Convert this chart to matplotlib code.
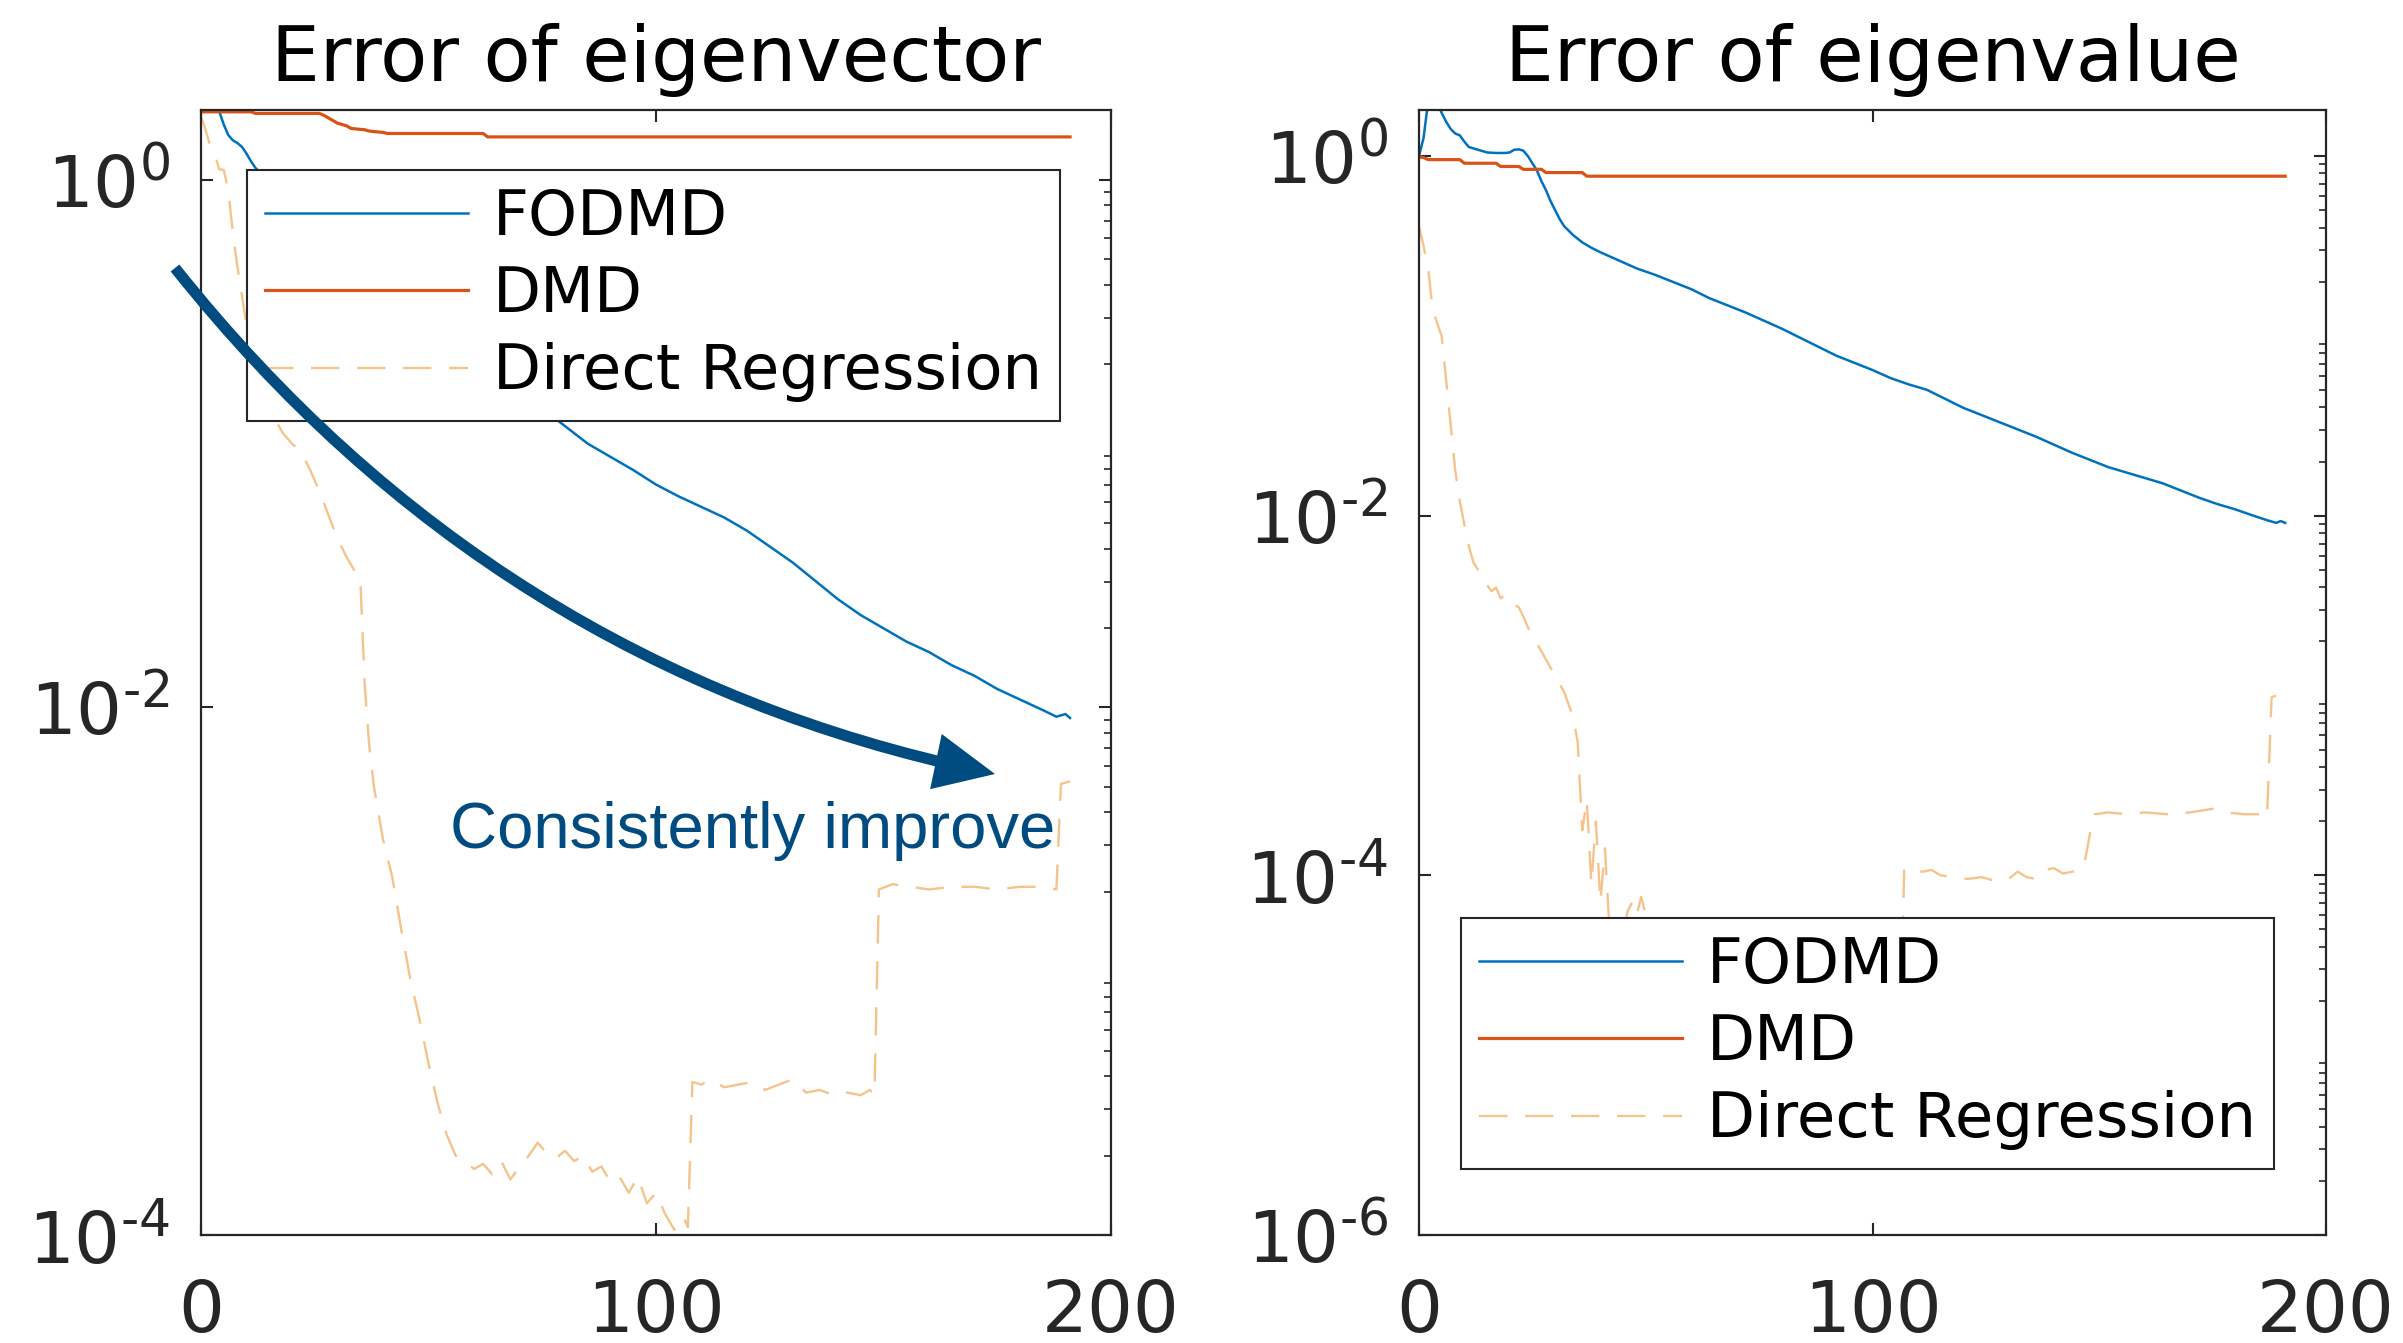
import numpy as np
import matplotlib
matplotlib.use("Agg")
import matplotlib.pyplot as plt
from matplotlib.ticker import FixedLocator, FuncFormatter, LogLocator, NullLocator
from matplotlib.patches import FancyArrowPatch

plt.rcParams["font.family"] = ["DejaVu Sans"]
plt.rcParams["mathtext.fontset"] = "dejavusans"

# ---------------- data (log10 of the error) ----------------
# Error of eigenvector
vec_fodmd_x = [0, 1, 2, 3, 4, 5, 6, 7, 8, 9, 10, 11, 12, 15, 20, 25, 30, 35, 40, 45, 50,
               55, 60, 65, 70, 75, 79, 85, 90, 95, 100, 105, 110, 115, 120, 125, 130,
               135, 140, 145, 150, 155, 160, 165, 170, 175, 180, 185, 188, 190, 191]
vec_fodmd_log = [0.30, 0.30, 0.30, 0.28, 0.26, 0.21, 0.17, 0.15, 0.14, 0.125, 0.10, 0.07,
                 0.045, -0.01, -0.10, -0.19, -0.27, -0.35, -0.43, -0.50, -0.57, -0.63,
                 -0.69, -0.75, -0.81, -0.87, -0.92, -1.00, -1.05, -1.10, -1.155, -1.20,
                 -1.24, -1.28, -1.33, -1.39, -1.45, -1.52, -1.59, -1.65, -1.70, -1.75,
                 -1.79, -1.84, -1.88, -1.93, -1.97, -2.01, -2.035, -2.025, -2.04]

vec_dmd_x = [0, 11, 12, 26, 27, 29, 30, 32, 33, 36, 37, 40, 41, 62, 63, 191]
vec_dmd_log = [0.258, 0.258, 0.252, 0.252, 0.245, 0.225, 0.215, 0.205, 0.195, 0.19,
               0.185, 0.18, 0.176, 0.176, 0.163, 0.163]

vec_dr_x = [0, 1, 2, 3, 4, 5, 6, 7, 8, 9, 10, 12, 14, 16, 18, 20, 22, 24, 26, 28, 30, 32,
            34, 35, 36, 37, 38, 40, 42, 44, 46, 48, 50, 52, 54, 56, 58, 60, 62, 64, 66,
            68, 70, 72, 74, 76, 78, 80, 82, 84, 86, 88, 90, 92, 94, 96, 98, 100, 102,
            104, 106, 107, 108, 110, 112, 115, 118, 121, 124, 127, 130, 133, 136, 139,
            142, 145, 147, 148, 149, 152, 156, 160, 165, 170, 175, 180, 185, 188, 189,
            191]
vec_dr_log = [0.24, 0.19, 0.13, 0.10, 0.04, 0.038, -0.04, -0.20, -0.33, -0.44, -0.55,
              -0.70, -0.82, -0.90, -0.96, -1.00, -1.03, -1.10, -1.18, -1.27, -1.36, -1.43,
              -1.49, -1.51, -1.92, -2.15, -2.30, -2.50, -2.64, -2.84, -3.03, -3.18, -3.35,
              -3.50, -3.62, -3.70, -3.72, -3.75, -3.73, -3.77, -3.72, -3.79, -3.74, -3.70,
              -3.65, -3.69, -3.71, -3.68, -3.72, -3.70, -3.76, -3.74, -3.80, -3.78, -3.84,
              -3.78, -3.88, -3.84, -3.92, -3.98, -3.93, -3.97, -3.42, -3.43, -3.41, -3.44,
              -3.43, -3.42, -3.45, -3.43, -3.41, -3.46, -3.45, -3.47, -3.46, -3.47, -3.45,
              -3.47, -2.69, -2.67, -2.68, -2.69, -2.68, -2.68, -2.69, -2.68, -2.68, -2.69,
              -2.29, -2.28]

# Error of eigenvalue
val_fodmd_x = [0, 1, 2, 3, 4, 5, 6, 7, 8, 9, 10, 11, 13, 15, 17, 19, 20, 21, 22, 23, 24,
               25, 26, 27, 28, 29, 30, 31, 32, 34, 36, 38, 40, 44, 48, 52, 56, 60, 64, 68,
               72, 76, 80, 84, 88, 92, 96, 100, 104, 108, 112, 116, 120, 124, 128, 132,
               136, 140, 144, 148, 152, 156, 160, 164, 168, 172, 176, 180, 184, 187, 189,
               190, 191]
val_fodmd_log = [0.0, 0.10, 0.30, 0.32, 0.30, 0.24, 0.19, 0.15, 0.125, 0.115, 0.08, 0.05,
                 0.035, 0.02, 0.017, 0.017, 0.02, 0.035, 0.037, 0.03, 0.0, -0.04, -0.08,
                 -0.14, -0.19, -0.25, -0.30, -0.35, -0.39, -0.44, -0.48, -0.51, -0.535,
                 -0.58, -0.625, -0.66, -0.70, -0.74, -0.79, -0.83, -0.87, -0.915, -0.96,
                 -1.01, -1.06, -1.11, -1.15, -1.19, -1.235, -1.27, -1.30, -1.35, -1.40,
                 -1.44, -1.48, -1.52, -1.56, -1.605, -1.65, -1.69, -1.73, -1.76, -1.79,
                 -1.82, -1.86, -1.90, -1.935, -1.965, -2.0, -2.025, -2.04, -2.03, -2.04]

val_dmd_x = [0, 1, 2, 9, 10, 17, 18, 22, 23, 27, 28, 36, 37, 191]
val_dmd_log = [-0.005, -0.008, -0.02, -0.02, -0.04, -0.04, -0.058, -0.058, -0.074, -0.074,
               -0.092, -0.092, -0.112, -0.112]

val_dr_x = [0, 1, 2, 3, 4, 5, 6, 7, 8, 9, 10, 11, 12, 13, 14, 16, 17, 18, 19, 20, 22, 23,
            24, 26, 28, 30, 32, 34, 35, 36, 37, 38, 39, 40, 41, 42, 44, 46, 47, 48, 49, 50,
            51, 55, 60, 65, 70, 75, 80, 85, 90, 95, 100, 105, 106, 107, 109, 111, 113,
            115, 118, 121, 124, 127, 130, 132, 134, 136, 138, 140, 142, 144, 146, 147,
            148, 149, 152, 156, 160, 165, 170, 175, 178, 182, 186, 187, 188, 189]
val_dr_log = [-0.39, -0.50, -0.62, -0.85, -0.93, -1.00, -1.25, -1.50, -1.75, -1.92, -2.05,
              -2.17, -2.26, -2.30, -2.35, -2.42, -2.40, -2.46, -2.44, -2.48, -2.51, -2.56,
              -2.62, -2.71, -2.80, -2.89, -2.98, -3.12, -3.26, -3.75, -3.58, -4.05, -3.70,
              -4.15, -3.85, -4.30, -4.45, -4.20, -4.15, -4.22, -4.12, -4.22, -4.40, -4.70,
              -4.90, -5.00, -4.95, -5.10, -5.05, -5.15, -5.10, -5.20, -5.10, -5.15, -5.00,
              -3.96, -3.97, -3.98, -3.97, -4.00, -4.01, -4.02, -4.01, -4.03, -4.02, -3.98,
              -4.01, -4.02, -3.97, -3.96, -3.99, -3.98, -3.97, -3.90, -3.76, -3.66, -3.65,
              -3.66, -3.65, -3.66, -3.65, -3.63, -3.65, -3.66, -3.66, -3.68, -3.01, -3.00]

series_names = ["FODMD", "DMD", "Direct Regression"]
titles = ["Error of eigenvector", "Error of eigenvalue"]
x_ticks = [0, 100, 200]
vec_decades = [0, -2, -4]
val_decades = [0, -2, -4, -6]
vec_ylim = (1e-4, 10 ** 0.265)
val_ylim = (1e-6, 10 ** 0.256)

# ---------------- style ----------------
C_FODMD = "#0072BD"
C_DMD = "#D95319"
C_DR = "#F5C38C"
C_AXIS = "#262626"
C_NOTE = "#004B80"

W, H = 2403, 1343
fig = plt.figure(figsize=(W / 100, H / 100), dpi=100)
ax_vec = fig.add_axes([201 / W, 1 - 1235 / H, 910 / W, 1125 / H])
ax_val = fig.add_axes([1419 / W, 1 - 1235 / H, 907 / W, 1125 / H])


def sup_label(v, pos=None):
    e = int(round(np.log10(v)))
    if e < 0:
        return r"$10^{\text{-}%d}$" % (-e)
    return r"$10^{%d}$" % e


def draw_panel(ax, title, xs_logs, decades, ylim, legend_anchor):
    (fx, fl), (dx, dl), (rx, rl) = xs_logs
    ax.plot(fx, 10 ** np.array(fl), color=C_FODMD, lw=1.8, label=series_names[0])
    ax.plot(dx, 10 ** np.array(dl), color=C_DMD, lw=2.3, label=series_names[1])
    ax.plot(rx, 10 ** np.array(rl), color=C_DR, lw=1.7, ls=(0, (12, 7.5)),
            label=series_names[2])
    ax.set_yscale("log")
    ax.set_xlim(0, 200)
    ax.set_ylim(*ylim)
    ax.xaxis.set_major_locator(FixedLocator(x_ticks))
    ax.xaxis.set_minor_locator(NullLocator())
    ax.yaxis.set_major_locator(FixedLocator([10.0 ** d for d in decades]))
    ax.yaxis.set_major_formatter(FuncFormatter(sup_label))
    ax.yaxis.set_minor_locator(LogLocator(base=10, subs=np.arange(2, 10), numticks=50))
    ax.tick_params(which="major", direction="in", length=8.5, width=1.5,
                   top=True, right=True, colors=C_AXIS, labelsize=52)
    ax.tick_params(axis="x", which="major", pad=31)
    ax.tick_params(axis="y", which="major", pad=22)
    ax.tick_params(axis="y", which="minor", direction="in", length=5, width=1.2,
                   left=False, right=True, colors=C_AXIS)
    for sp in ax.spines.values():
        sp.set_color(C_AXIS)
        sp.set_linewidth(1.6)
    ax.set_title(title, fontsize=55.5, pad=21, color="black")
    leg = ax.legend(loc="upper left", bbox_to_anchor=legend_anchor,
                    bbox_transform=ax.transAxes, borderaxespad=0, fontsize=45,
                    handlelength=3.25, handletextpad=0.4, borderpad=0.29,
                    labelspacing=0.275, fancybox=False, framealpha=1,
                    edgecolor=C_AXIS)
    leg.get_frame().set_linewidth(1.5)


draw_panel(ax_vec, titles[0],
           [(vec_fodmd_x, vec_fodmd_log), (vec_dmd_x, vec_dmd_log), (vec_dr_x, vec_dr_log)],
           vec_decades, vec_ylim, (0.0505, 0.9467))
draw_panel(ax_val, titles[1],
           [(val_fodmd_x, val_fodmd_log), (val_dmd_x, val_dmd_log), (val_dr_x, val_dr_log)],
           val_decades, val_ylim, (0.0463, 0.2818))

# curved arrow with the note, drawn over the left panel
arrow = FancyArrowPatch(posA=(175 / W, 1 - 268 / H), posB=(995 / W, 1 - 774 / H),
                        transform=fig.transFigure,
                        connectionstyle="arc3,rad=0.18",
                        arrowstyle="-|>,head_length=0.30,head_width=0.14",
                        mutation_scale=100, lw=8, color=C_NOTE,
                        shrinkA=0, shrinkB=0, joinstyle="miter", capstyle="butt")
fig.add_artist(arrow)
fig.text(450 / W, 1 - 848 / H, "Consistently improve", fontsize=47,
         family=["Liberation Sans", "DejaVu Sans"], color=C_NOTE,
         ha="left", va="baseline")

fig.savefig("out.png", dpi=100)
